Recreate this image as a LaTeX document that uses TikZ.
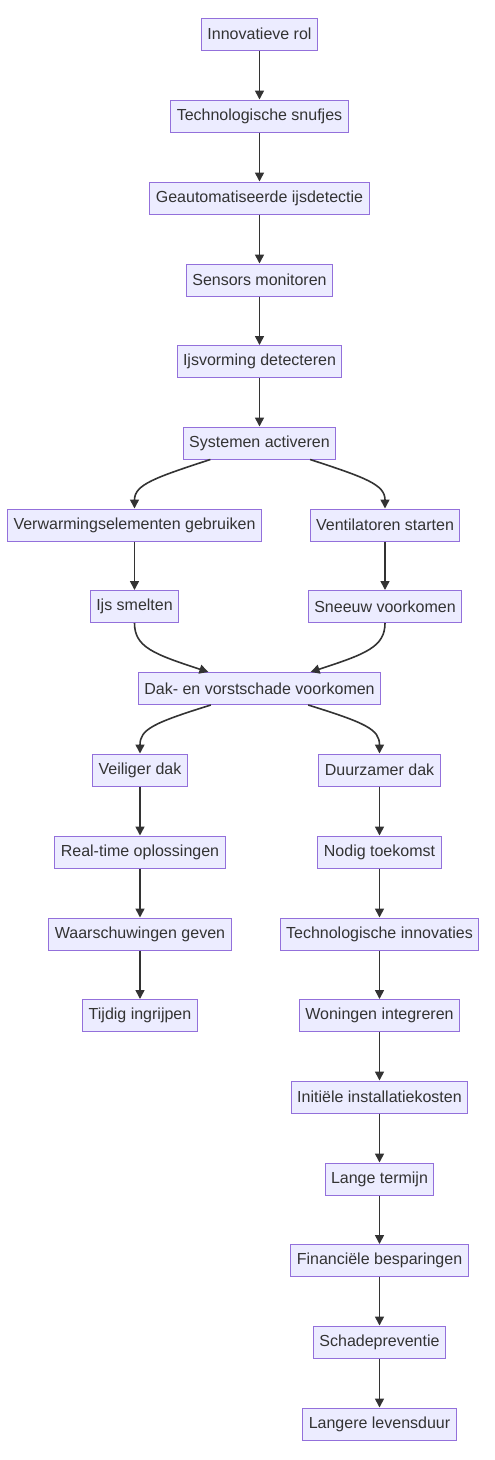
\documentclass[tikz,border=0pt]{standalone}
\usepackage{fontspec}
\setmainfont{Liberation Sans}
\usetikzlibrary{arrows.meta,calc}
\definecolor{nodefill}{HTML}{ECECFF}
\definecolor{nodeline}{HTML}{9370DB}
\definecolor{txt}{HTML}{333333}
\definecolor{edge}{HTML}{333333}
\begin{document}
\begin{tikzpicture}[x=1pt,y=-1pt,
  box/.style={draw=nodeline,fill=nodefill,line width=1pt,text=txt,
    font=\fontsize{16}{19}\selectfont,inner xsep=6pt,inner ysep=0pt,
    minimum height=32pt,anchor=center},
  link/.style={draw=edge,line width=1.6pt,-{Triangle[length=9pt,width=9pt]}}]
\useasboundingbox[fill=white] (0,0) rectangle (495,1460);
\node[box] (n1) at (259.5,34) {Innovatieve rol};
\node[box] (n2) at (259.5,116) {Technologische snufjes};
\node[box] (n3) at (259.5,198) {Geautomatiseerde ijsdetectie};
\node[box] (n4) at (259.5,280) {Sensors monitoren};
\node[box] (n5) at (259.5,361.5) {Ijsvorming detecteren};
\node[box] (n6) at (259.5,443) {Systemen activeren};
\node[box] (n7) at (134.5,525) {Verwarmingselementen gebruiken};
\node[box] (n8) at (385,525) {Ventilatoren starten};
\node[box] (n9) at (134.5,606.5) {Ijs smelten};
\node[box] (n10) at (385,606.5) {Sneeuw voorkomen};
\node[box] (n11) at (259.5,688.5) {Dak- en vorstschade voorkomen};
\node[box] (n12) at (140,770) {Veiliger dak};
\node[box] (n13) at (379.5,770) {Duurzamer dak};
\node[box] (n14) at (140,852) {Real-time oplossingen};
\node[box] (n15) at (379.5,852) {Nodig toekomst};
\node[box] (n16) at (140,934) {Waarschuwingen geven};
\node[box] (n17) at (379.5,934) {Technologische innovaties};
\node[box] (n18) at (140,1015.5) {Tijdig ingrijpen};
\node[box] (n19) at (379.5,1015.5) {Woningen integreren};
\node[box] (n20) at (379.5,1097) {Initiële installatiekosten};
\node[box] (n21) at (379.5,1179) {Lange termijn};
\node[box] (n22) at (379.5,1260.5) {Financiële besparingen};
\node[box] (n23) at (379.5,1342) {Schadepreventie};
\node[box] (n24) at (379.5,1424) {Langere levensduur};
% straight links
\foreach \a/\b in {n1/n2,n2/n3,n3/n4,n4/n5,n5/n6,n7/n9,n8/n10,n12/n14,n14/n16,n16/n18,
  n13/n15,n15/n17,n17/n19,n19/n20,n20/n21,n21/n22,n22/n23,n23/n24}
  \draw[link] (\a.south) -- (\b.north);
% curved links
\coordinate (s6l) at ($(n6.south west)!0.18!(n6.south east)$);
\coordinate (s6r) at ($(n6.south west)!0.83!(n6.south east)$);
\draw[link] (s6l) .. controls ($(s6l)+(-55,18)$) and ($(n7.north)+(0,-24)$) .. (n7.north);
\draw[link] (s6r) .. controls ($(s6r)+(55,18)$) and ($(n8.north)+(0,-24)$) .. (n8.north);
\coordinate (t11l) at ($(n11.north west)!0.29!(n11.north east)$);
\coordinate (t11r) at ($(n11.north west)!0.71!(n11.north east)$);
\draw[link] (n9.south) .. controls ($(n9.south)+(0,24)$) and ($(t11l)+(-55,-18)$) .. (t11l);
\draw[link] (n10.south) .. controls ($(n10.south)+(0,24)$) and ($(t11r)+(55,-18)$) .. (t11r);
\coordinate (s11l) at ($(n11.south west)!0.30!(n11.south east)$);
\coordinate (s11r) at ($(n11.south west)!0.70!(n11.south east)$);
\draw[link] (s11l) .. controls ($(s11l)+(-58,18)$) and ($(n12.north)+(0,-24)$) .. (n12.north);
\draw[link] (s11r) .. controls ($(s11r)+(58,18)$) and ($(n13.north)+(0,-24)$) .. (n13.north);
\end{tikzpicture}
\end{document}
